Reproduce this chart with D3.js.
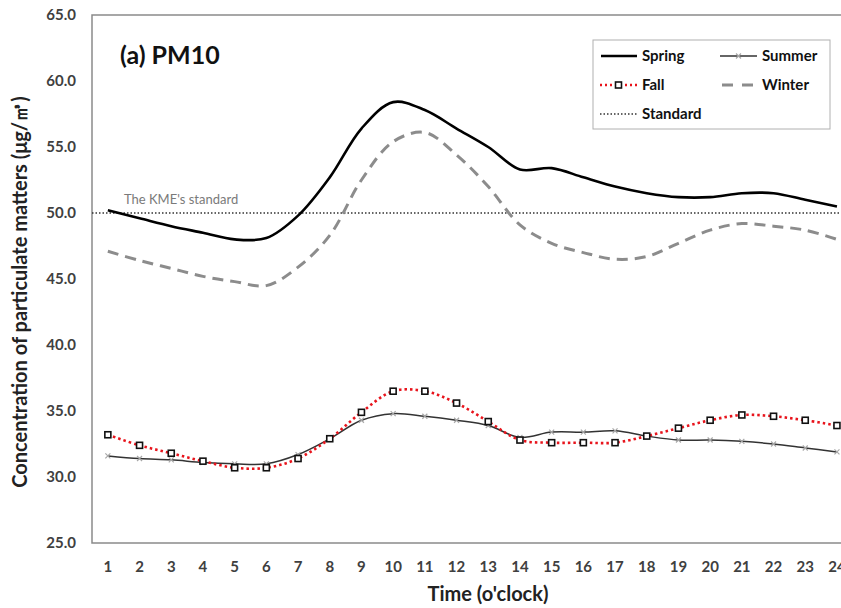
<!DOCTYPE html>
<html><head><meta charset="utf-8">
<script src="https://cdnjs.cloudflare.com/ajax/libs/d3/7.8.5/d3.min.js"></script>
<style>
body{margin:0;background:#fff;}
svg{font-family:Lato,"Open Sans",sans-serif;}
</style></head>
<body><svg id="c" width="841" height="608"></svg>
<script>
const hours = d3.range(1,25);
const hourLabels = hours.map(String);
const yTicks = [25,30,35,40,45,50,55,60,65];
const spring = [50.2,49.6,49.0,48.5,48.0,48.1,49.8,52.7,56.4,58.4,57.8,56.4,55.0,53.3,53.4,52.7,52.0,51.5,51.2,51.2,51.5,51.5,51.0,50.5];
const summer = [31.6,31.4,31.3,31.1,31.0,31.0,31.7,32.9,34.3,34.8,34.6,34.3,33.9,33.0,33.4,33.4,33.5,33.1,32.8,32.8,32.7,32.5,32.2,31.9];
const fall   = [33.2,32.4,31.8,31.2,30.7,30.7,31.4,32.9,34.9,36.5,36.5,35.6,34.2,32.8,32.6,32.6,32.6,33.1,33.7,34.3,34.7,34.6,34.3,33.9];
const winter = [47.1,46.4,45.8,45.2,44.8,44.5,45.9,48.3,52.5,55.4,56.1,54.4,52.0,49.1,47.7,47.0,46.5,46.7,47.7,48.7,49.2,49.0,48.7,48.0];
const standard = 50;

const svg = d3.select("#c");
const L=92, T=15, B=543, step=31.7;
const x = d3.scaleBand().domain(hourLabels).range([L, L+step*24]);
const cx = h => x(String(h)) + x.bandwidth()/2;
const y = d3.scaleLinear().domain([25,65]).range([B,T]);

// frame
svg.append("path").attr("d",`M${L+step*24+2},${T}H${L}V${B}H${L+step*24+2}`)
  .attr("fill","none").attr("stroke","#8a8a8a").attr("stroke-width",1.5);

// y axis
const ya = svg.append("g").attr("transform",`translate(${L},0)`)
  .call(d3.axisLeft(y).tickValues(yTicks).tickFormat(d3.format(".1f")).tickSize(0).tickPadding(16));
ya.select(".domain").remove();
ya.selectAll("text").attr("font-size",15).attr("font-weight","bold").attr("fill","#404040").attr("font-family","Lato,sans-serif");

// x axis
const xa = svg.append("g").attr("transform",`translate(0,${B})`)
  .call(d3.axisBottom(x).tickSize(0).tickPadding(18));
xa.select(".domain").remove();
xa.selectAll("text").attr("font-size",15).attr("font-weight","bold").attr("fill","#404040").attr("font-family","Lato,sans-serif");

// titles
svg.append("text").attr("x",488).attr("y",601).attr("text-anchor","middle")
  .attr("font-size",20).attr("font-weight","bold").attr("fill","#222").text("Time (o'clock)");
svg.append("text").attr("transform","translate(27,292) rotate(-90)").attr("text-anchor","middle")
  .attr("font-size",20).attr("font-weight","bold").attr("fill","#222").text("Concentration of particulate matters (μg/㎥)");
svg.append("text").attr("x",120).attr("y",64).attr("font-size",25).attr("font-weight","bold").attr("fill","#111").text("(a) PM10");

// standard line
svg.append("line").attr("x1",L).attr("x2",841).attr("y1",y(standard)).attr("y2",y(standard))
  .attr("stroke","#333").attr("stroke-width",1.3).attr("stroke-dasharray","1.5,2");
svg.append("text").attr("x",124).attr("y",y(standard)-9).attr("font-size",13).attr("fill","#7a7a7a").text("The KME's standard");

const line = d3.line().x((d,i)=>cx(hours[i])).y(d=>y(d)).curve(d3.curveCatmullRom.alpha(0.5));

svg.append("path").attr("d",line(winter)).attr("fill","none").attr("stroke","#8c8c8c").attr("stroke-width",3).attr("stroke-dasharray","11,7");
svg.append("path").attr("d",line(spring)).attr("fill","none").attr("stroke","#000").attr("stroke-width",2.6);
svg.append("path").attr("d",line(summer)).attr("fill","none").attr("stroke","#333").attr("stroke-width",1.5);
svg.append("path").attr("d",line(fall)).attr("fill","none").attr("stroke","#e8141c").attr("stroke-width",2.6).attr("stroke-dasharray","2.5,3");

// summer x markers
const xm = svg.append("g");
summer.forEach((v,i)=>{
  const px=cx(hours[i]), py=y(v), s=2.5;
  xm.append("path").attr("d",`M${px-s},${py-s}L${px+s},${py+s}M${px-s},${py+s}L${px+s},${py-s}`)
    .attr("stroke","#a8a8a8").attr("stroke-width",1.2);
});
// fall square markers
svg.append("g").selectAll("rect").data(fall).join("rect")
  .attr("x",(d,i)=>cx(hours[i])-3).attr("y",d=>y(d)-3).attr("width",6).attr("height",6)
  .attr("fill","#fff").attr("stroke","#111").attr("stroke-width",1.6);

// legend
const lg = svg.append("g");
lg.append("rect").attr("x",593).attr("y",40).attr("width",237).attr("height",89).attr("fill","#fff").attr("stroke","#b0b0b0").attr("stroke-width",1);
const items = [
  {name:"Spring", x:600, y:56},
  {name:"Summer", x:720, y:56},
  {name:"Fall", x:600, y:85},
  {name:"Winter", x:720, y:85},
  {name:"Standard", x:600, y:114}
];
items.forEach(it=>{
  const g = lg.append("g");
  const x0=it.x, x1=it.x+37, yy=it.y;
  if(it.name==="Spring") g.append("line").attr("x1",x0+1).attr("x2",x1).attr("y1",yy).attr("y2",yy).attr("stroke","#000").attr("stroke-width",2.6);
  if(it.name==="Summer"){ g.append("line").attr("x1",x0).attr("x2",x1).attr("y1",yy).attr("y2",yy).attr("stroke","#333").attr("stroke-width",1.5);
    const mx=(x0+x1)/2; g.append("path").attr("d",`M${mx-2.5},${yy-2.5}L${mx+2.5},${yy+2.5}M${mx-2.5},${yy+2.5}L${mx+2.5},${yy-2.5}`).attr("stroke","#a8a8a8").attr("stroke-width",1.2);}
  if(it.name==="Fall"){ g.append("line").attr("x1",x0).attr("x2",x1).attr("y1",yy).attr("y2",yy).attr("stroke","#e8141c").attr("stroke-width",2.4).attr("stroke-dasharray","2,3");
    const mx=(x0+x1)/2; g.append("rect").attr("x",mx-3).attr("y",yy-3).attr("width",6).attr("height",6).attr("fill","#fff").attr("stroke","#111").attr("stroke-width",1.6);}
  if(it.name==="Winter") g.append("line").attr("x1",x0+2).attr("x2",x1).attr("y1",yy).attr("y2",yy).attr("stroke","#8c8c8c").attr("stroke-width",3).attr("stroke-dasharray","11,9");
  if(it.name==="Standard") g.append("line").attr("x1",x0).attr("x2",x1).attr("y1",yy).attr("y2",yy).attr("stroke","#333").attr("stroke-width",1.3).attr("stroke-dasharray","1.5,2");
  g.append("text").attr("x",x1+5).attr("y",yy+5).attr("font-size",15).attr("font-weight","bold").attr("fill","#111").text(it.name);
});
</script></body></html>
